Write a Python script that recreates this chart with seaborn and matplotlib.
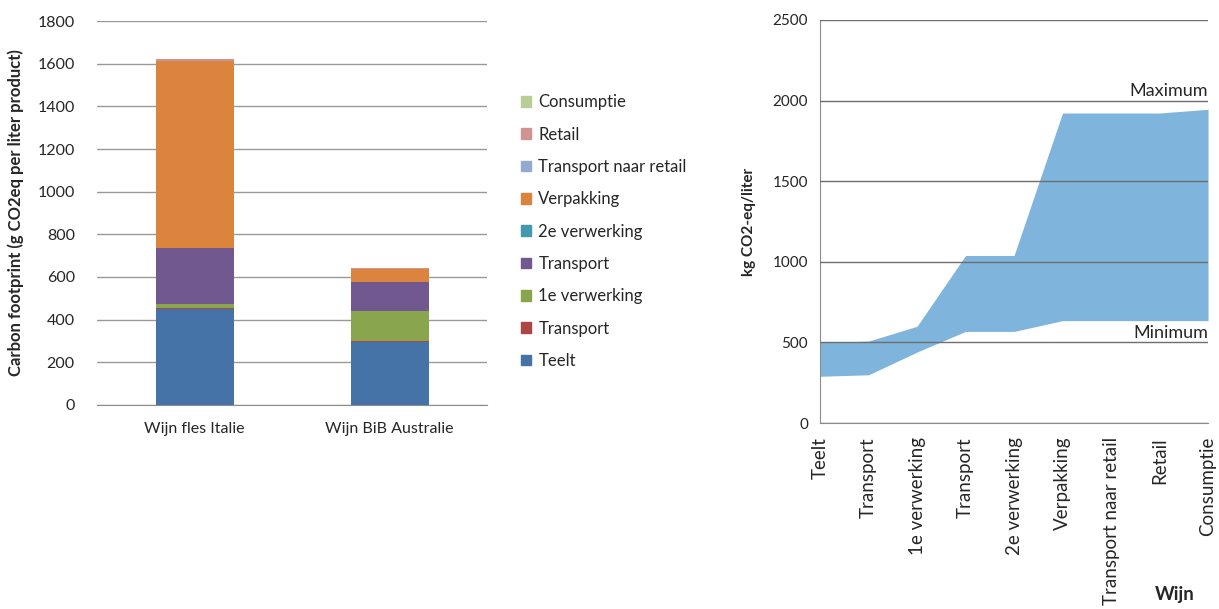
import numpy as np
import pandas as pd
import matplotlib
matplotlib.use("Agg")
import matplotlib.pyplot as plt
import seaborn as sns
from matplotlib.patches import Patch

# left chart: stacked contributions per product (bottom to top)
products = ["Wijn fles Italie", "Wijn BiB Australie"]
stages = ["Teelt", "Transport", "1e verwerking", "Transport", "2e verwerking",
          "Verpakking", "Transport naar retail", "Retail", "Consumptie"]
italie = [449, 5, 20, 262, 0, 876, 0, 8, 0]
australie = [295, 5, 140, 135, 0, 62, 0, 5, 0]
stage_colors = ["#4572A7", "#AA4643", "#89A54E", "#71588F", "#4198AF",
                "#DB843D", "#93A9CF", "#D19392", "#B9CD96"]

# right chart: min / max cumulative band
chain = ["Teelt", "Transport", "1e verwerking", "Transport", "2e verwerking",
         "Verpakking", "Transport naar retail", "Retail", "Consumptie"]
band_min = [290, 299, 440, 568, 568, 635, 635, 635, 635]
band_max = [500, 508, 600, 1039, 1039, 1923, 1923, 1923, 1946]

sns.set_style("white")
plt.rcParams["font.family"] = ["Lato", "DejaVu Sans"]
plt.rcParams["font.size"] = 10

fig = plt.figure(figsize=(12.19, 6.09), dpi=100)
ax1 = fig.add_axes([0.0796, 0.335, 0.32, 0.6305])
ax2 = fig.add_axes([0.6727, 0.3054, 0.3183, 0.6618])

# ---- stacked bars (draw cumulative totals from top down) ----
cum = np.cumsum(np.array([italie, australie]), axis=1)
for i in range(len(stages) - 1, -1, -1):
    df = pd.DataFrame({"product": products, "value": cum[:, i]})
    sns.barplot(data=df, x="product", y="value", color=stage_colors[i],
                width=0.4, saturation=1, ax=ax1, zorder=2, edgecolor="none")

ax1.set_ylim(0, 1800)
ax1.set_xlim(-0.5, 1.5)
ax1.set_yticks(range(0, 1801, 200))
ax1.yaxis.grid(True, color="#999999", linewidth=1)
ax1.set_axisbelow(True)
for s in ["top", "right", "left"]:
    ax1.spines[s].set_visible(False)
ax1.spines["bottom"].set_color("#8c8c8c")
ax1.set_xticks([-0.5, 0.5, 1.5], minor=True)
ax1.tick_params(axis="x", which="minor", length=4, color="#8c8c8c")
ax1.tick_params(axis="x", which="major", length=0, pad=12, labelsize=11.5)
ax1.tick_params(axis="y", length=0, pad=16, labelsize=11.5)
ax1.set_xlabel("")
ax1.set_ylabel("Carbon footprint (g CO2eq per liter product)", fontweight="bold",
               fontsize=12, labelpad=10)

handles = [Patch(color=c, label=l) for c, l in zip(stage_colors, stages)][::-1]
fig.legend(handles=handles, loc="upper left", bbox_to_anchor=(0.415, 0.87),
           frameon=False, handlelength=0.6, handleheight=0.6, handletextpad=0.45,
           labelspacing=0.98, fontsize=12)

# ---- min/max band ----
x = np.arange(len(chain))
ax2.fill_between(x, band_min, band_max, color="#7FB5DC", linewidth=0, zorder=1)
sns.lineplot(x=x, y=band_max, ax=ax2, color="#7FB5DC", linewidth=0, zorder=1)
ax2.set_xlim(0, len(chain) - 1)
ax2.set_ylim(0, 2500)
ax2.set_yticks(range(0, 2501, 500))
ax2.yaxis.grid(True, color="#6e6e6e", linewidth=1, zorder=3)
ax2.set_axisbelow(False)
for s in ["top", "right"]:
    ax2.spines[s].set_visible(False)
for s in ["left", "bottom"]:
    ax2.spines[s].set_color("#8c8c8c")
ax2.set_xticks(x)
ax2.set_xticklabels(chain, rotation=90, va="top", ha="center", fontsize=13.5)
ax2.tick_params(axis="both", length=5, color="#8c8c8c", direction="out")
ax2.tick_params(axis="y", labelsize=11)
ax2.tick_params(axis="x", pad=5)
ax2.set_xlabel("Wijn", fontweight="bold", fontsize=13.5)
ax2.xaxis.set_label_coords(0.915, -0.405)
ax2.set_ylabel("kg CO2-eq/liter", fontweight="bold", fontsize=11, labelpad=12)
ax2.text(1.0, 2010, "Maximum", ha="right", va="bottom", fontsize=13,
         transform=ax2.get_yaxis_transform())
ax2.text(1.0, 510, "Minimum", ha="right", va="bottom", fontsize=13,
         transform=ax2.get_yaxis_transform())

fig.savefig("out.png", dpi=100)
